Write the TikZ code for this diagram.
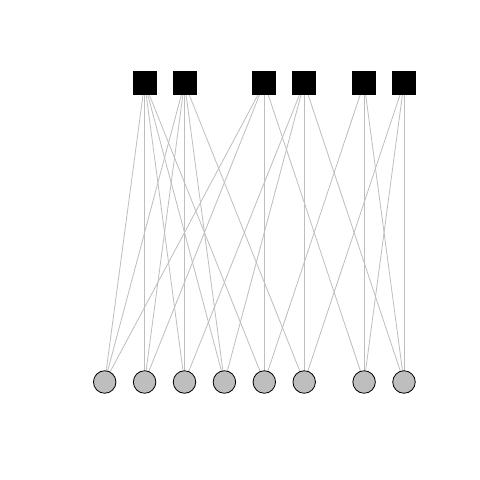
\documentclass[tikz,border=0pt]{standalone}
\usetikzlibrary{backgrounds}
\pgfdeclarelayer{edgelayer}
\pgfsetlayers{background,edgelayer,main}
\definecolor{edgegray}{RGB}{190,190,190}
\definecolor{vgray}{RGB}{190,190,190}
\tikzset{
  topnode/.style={rectangle, fill=black, draw=none, minimum size=24pt, inner sep=0pt},
  botnode/.style={circle, fill=vgray, draw=black, line width=0.8pt, minimum size=22.5pt, inner sep=0pt},
  edge/.style={draw=edgegray, line width=0.8pt}
}
\begin{document}
\begin{tikzpicture}[x=1pt,y=-1pt]
\useasboundingbox (0,0) rectangle (480,480);
\begin{scope}[on background layer]
\fill[white] (0,0) rectangle (480,480);
\end{scope}
% top squares
\node[topnode] (s1) at (144.6,83) {};
\node[topnode] (s2) at (184.5,83) {};
\node[topnode] (s3) at (264.3,83) {};
\node[topnode] (s4) at (304.2,83) {};
\node[topnode] (s5) at (364.1,83) {};
\node[topnode] (s6) at (404,83) {};
% bottom circles
\node[botnode] (c1) at (104.7,382) {};
\node[botnode] (c2) at (144.6,382) {};
\node[botnode] (c3) at (184.5,382) {};
\node[botnode] (c4) at (224.4,382) {};
\node[botnode] (c5) at (264.3,382) {};
\node[botnode] (c6) at (304.2,382) {};
\node[botnode] (c7) at (364.1,382) {};
\node[botnode] (c8) at (404,382) {};
\begin{pgfonlayer}{edgelayer}
\foreach \c/\s in {c1/s1,c1/s2,c1/s3,
                   c2/s1,c2/s2,c2/s3,
                   c3/s1,c3/s2,c3/s4,
                   c4/s1,c4/s2,c4/s4,
                   c5/s1,c5/s3,c5/s5,
                   c6/s2,c6/s4,c6/s6,
                   c7/s3,c7/s5,c7/s6,
                   c8/s4,c8/s5,c8/s6}
  \draw[edge] (\c.center) -- (\s.center);
\end{pgfonlayer}
\end{tikzpicture}
\end{document}
